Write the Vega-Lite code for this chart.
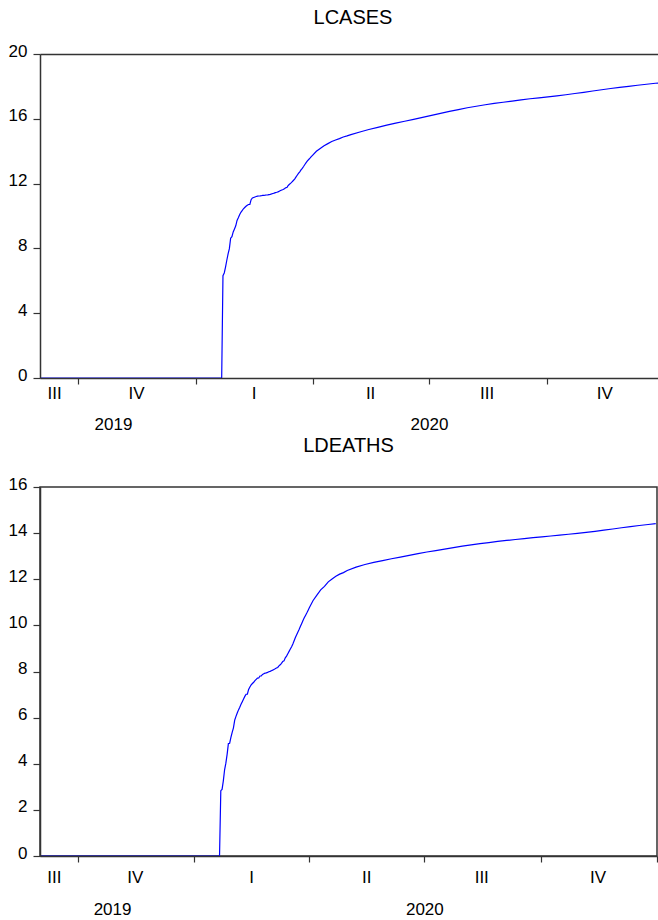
{
  "$schema": "https://vega.github.io/schema/vega-lite/v6.json",
  "padding": {"left": 7, "top": 8, "right": 0, "bottom": 0},
  "background": "white",
  "config": {
    "font": "Liberation Sans",
    "view": {"stroke": null},
    "axis": {"labelFont": "Liberation Sans", "labelFontSize": 17, "labelColor": "#000", "domainColor": "#333", "tickColor": "#333", "domainWidth": 1.5, "tickWidth": 1.2, "grid": false, "title": null, "labelFlush": false, "labelOverlap": false},
    "title": {"font": "Liberation Sans", "fontSize": 20, "fontWeight": "normal", "color": "#000", "anchor": "middle", "frame": "group", "baseline": "alphabetic"},
    "line": {"stroke": "#0000ff", "strokeWidth": 1.2, "clip": true}
  },
  "datasets": {
    "covid": [
      {"date": "2019-09-01", "lcases": 0, "ldeaths": 0},
      {"date": "2020-01-21", "lcases": 0, "ldeaths": 0},
      {"date": "2020-01-22", "lcases": 6.319, "ldeaths": 2.833},
      {"date": "2020-01-23", "lcases": 6.483, "ldeaths": 2.890},
      {"date": "2020-01-24", "lcases": 6.847, "ldeaths": 3.258},
      {"date": "2020-01-25", "lcases": 7.268, "ldeaths": 3.738},
      {"date": "2020-01-26", "lcases": 7.658, "ldeaths": 4.025},
      {"date": "2020-01-27", "lcases": 7.982, "ldeaths": 4.407},
      {"date": "2020-01-28", "lcases": 8.627, "ldeaths": 4.875},
      {"date": "2020-01-29", "lcases": 8.727, "ldeaths": 4.890},
      {"date": "2020-01-30", "lcases": 9.016, "ldeaths": 5.142},
      {"date": "2020-01-31", "lcases": 9.203, "ldeaths": 5.361},
      {"date": "2020-02-01", "lcases": 9.396, "ldeaths": 5.557},
      {"date": "2020-02-02", "lcases": 9.728, "ldeaths": 5.892},
      {"date": "2020-02-03", "lcases": 9.898, "ldeaths": 6.054},
      {"date": "2020-02-04", "lcases": 10.082, "ldeaths": 6.198},
      {"date": "2020-02-05", "lcases": 10.227, "ldeaths": 6.335},
      {"date": "2020-02-06", "lcases": 10.335, "ldeaths": 6.452},
      {"date": "2020-02-07", "lcases": 10.446, "ldeaths": 6.578},
      {"date": "2020-02-08", "lcases": 10.522, "ldeaths": 6.692},
      {"date": "2020-02-09", "lcases": 10.601, "ldeaths": 6.809},
      {"date": "2020-02-10", "lcases": 10.664, "ldeaths": 6.921},
      {"date": "2020-02-11", "lcases": 10.710, "ldeaths": 7.015},
      {"date": "2020-02-12", "lcases": 10.719, "ldeaths": 7.019},
      {"date": "2020-02-13", "lcases": 11.008, "ldeaths": 7.223},
      {"date": "2020-02-14", "lcases": 11.111, "ldeaths": 7.328},
      {"date": "2020-02-15", "lcases": 11.142, "ldeaths": 7.418},
      {"date": "2020-02-16", "lcases": 11.174, "ldeaths": 7.479},
      {"date": "2020-02-17", "lcases": 11.202, "ldeaths": 7.533},
      {"date": "2020-02-18", "lcases": 11.227, "ldeaths": 7.604},
      {"date": "2020-02-19", "lcases": 11.234, "ldeaths": 7.660},
      {"date": "2020-02-20", "lcases": 11.241, "ldeaths": 7.717},
      {"date": "2020-02-21", "lcases": 11.250, "ldeaths": 7.719},
      {"date": "2020-02-22", "lcases": 11.272, "ldeaths": 7.807},
      {"date": "2020-02-23", "lcases": 11.277, "ldeaths": 7.812},
      {"date": "2020-02-24", "lcases": 11.284, "ldeaths": 7.874},
      {"date": "2020-02-25", "lcases": 11.295, "ldeaths": 7.904},
      {"date": "2020-02-26", "lcases": 11.307, "ldeaths": 7.927},
      {"date": "2020-02-27", "lcases": 11.324, "ldeaths": 7.942},
      {"date": "2020-02-28", "lcases": 11.340, "ldeaths": 7.963},
      {"date": "2020-02-29", "lcases": 11.362, "ldeaths": 7.987},
      {"date": "2020-03-01", "lcases": 11.389, "ldeaths": 8.005},
      {"date": "2020-03-02", "lcases": 11.411, "ldeaths": 8.034},
      {"date": "2020-03-03", "lcases": 11.439, "ldeaths": 8.058},
      {"date": "2020-03-04", "lcases": 11.463, "ldeaths": 8.088},
      {"date": "2020-03-05", "lcases": 11.491, "ldeaths": 8.116},
      {"date": "2020-03-06", "lcases": 11.531, "ldeaths": 8.149},
      {"date": "2020-03-07", "lcases": 11.570, "ldeaths": 8.177},
      {"date": "2020-03-08", "lcases": 11.607, "ldeaths": 8.243},
      {"date": "2020-03-09", "lcases": 11.640, "ldeaths": 8.291},
      {"date": "2020-03-10", "lcases": 11.683, "ldeaths": 8.357},
      {"date": "2020-03-11", "lcases": 11.743, "ldeaths": 8.437},
      {"date": "2020-03-12", "lcases": 11.762, "ldeaths": 8.460},
      {"date": "2020-03-13", "lcases": 11.886, "ldeaths": 8.595},
      {"date": "2020-03-14", "lcases": 11.958, "ldeaths": 8.669},
      {"date": "2020-03-15", "lcases": 12.028, "ldeaths": 8.770},
      {"date": "2020-03-16", "lcases": 12.109, "ldeaths": 8.872},
      {"date": "2020-03-17", "lcases": 12.192, "ldeaths": 8.975},
      {"date": "2020-03-18", "lcases": 12.278, "ldeaths": 9.075},
      {"date": "2020-03-19", "lcases": 12.400, "ldeaths": 9.197},
      {"date": "2020-03-20", "lcases": 12.514, "ldeaths": 9.332},
      {"date": "2020-03-21", "lcases": 12.626, "ldeaths": 9.471},
      {"date": "2020-03-22", "lcases": 12.725, "ldeaths": 9.590},
      {"date": "2020-03-23", "lcases": 12.843, "ldeaths": 9.711},
      {"date": "2020-03-24", "lcases": 12.943, "ldeaths": 9.832},
      {"date": "2020-03-25", "lcases": 13.055, "ldeaths": 9.961},
      {"date": "2020-03-26", "lcases": 13.180, "ldeaths": 10.085},
      {"date": "2020-03-27", "lcases": 13.293, "ldeaths": 10.211},
      {"date": "2020-03-28", "lcases": 13.401, "ldeaths": 10.330},
      {"date": "2020-03-29", "lcases": 13.487, "ldeaths": 10.432},
      {"date": "2020-03-30", "lcases": 13.570, "ldeaths": 10.534},
      {"date": "2020-03-31", "lcases": 13.662, "ldeaths": 10.648},
      {"date": "2020-04-01", "lcases": 13.746, "ldeaths": 10.762},
      {"date": "2020-04-04", "lcases": 13.998, "ldeaths": 11.078},
      {"date": "2020-04-07", "lcases": 14.173, "ldeaths": 11.314},
      {"date": "2020-04-10", "lcases": 14.340, "ldeaths": 11.538},
      {"date": "2020-04-13", "lcases": 14.468, "ldeaths": 11.691},
      {"date": "2020-04-16", "lcases": 14.595, "ldeaths": 11.888},
      {"date": "2020-04-19", "lcases": 14.695, "ldeaths": 12.014},
      {"date": "2020-04-22", "lcases": 14.779, "ldeaths": 12.126},
      {"date": "2020-04-25", "lcases": 14.880, "ldeaths": 12.221},
      {"date": "2020-04-28", "lcases": 14.947, "ldeaths": 12.288},
      {"date": "2020-05-01", "lcases": 15.024, "ldeaths": 12.380},
      {"date": "2020-05-08", "lcases": 15.184, "ldeaths": 12.528},
      {"date": "2020-05-15", "lcases": 15.337, "ldeaths": 12.638},
      {"date": "2020-05-22", "lcases": 15.474, "ldeaths": 12.731},
      {"date": "2020-05-29", "lcases": 15.612, "ldeaths": 12.810},
      {"date": "2020-06-05", "lcases": 15.737, "ldeaths": 12.889},
      {"date": "2020-06-12", "lcases": 15.848, "ldeaths": 12.960},
      {"date": "2020-06-19", "lcases": 15.967, "ldeaths": 13.035},
      {"date": "2020-06-26", "lcases": 16.088, "ldeaths": 13.110},
      {"date": "2020-07-03", "lcases": 16.213, "ldeaths": 13.181},
      {"date": "2020-07-10", "lcases": 16.333, "ldeaths": 13.245},
      {"date": "2020-07-17", "lcases": 16.455, "ldeaths": 13.308},
      {"date": "2020-07-24", "lcases": 16.569, "ldeaths": 13.371},
      {"date": "2020-07-31", "lcases": 16.683, "ldeaths": 13.433},
      {"date": "2020-08-07", "lcases": 16.776, "ldeaths": 13.488},
      {"date": "2020-08-14", "lcases": 16.869, "ldeaths": 13.544},
      {"date": "2020-08-21", "lcases": 16.947, "ldeaths": 13.592},
      {"date": "2020-08-28", "lcases": 17.022, "ldeaths": 13.639},
      {"date": "2020-09-04", "lcases": 17.096, "ldeaths": 13.682},
      {"date": "2020-09-11", "lcases": 17.169, "ldeaths": 13.723},
      {"date": "2020-09-18", "lcases": 17.236, "ldeaths": 13.763},
      {"date": "2020-09-25", "lcases": 17.297, "ldeaths": 13.801},
      {"date": "2020-10-02", "lcases": 17.354, "ldeaths": 13.838},
      {"date": "2020-10-09", "lcases": 17.416, "ldeaths": 13.876},
      {"date": "2020-10-16", "lcases": 17.484, "ldeaths": 13.913},
      {"date": "2020-10-23", "lcases": 17.560, "ldeaths": 13.951},
      {"date": "2020-10-30", "lcases": 17.637, "ldeaths": 13.989},
      {"date": "2020-11-06", "lcases": 17.715, "ldeaths": 14.034},
      {"date": "2020-11-13", "lcases": 17.795, "ldeaths": 14.080},
      {"date": "2020-11-20", "lcases": 17.869, "ldeaths": 14.131},
      {"date": "2020-11-27", "lcases": 17.934, "ldeaths": 14.180},
      {"date": "2020-12-04", "lcases": 17.999, "ldeaths": 14.232},
      {"date": "2020-12-11", "lcases": 18.071, "ldeaths": 14.284},
      {"date": "2020-12-18", "lcases": 18.133, "ldeaths": 14.331},
      {"date": "2020-12-25", "lcases": 18.193, "ldeaths": 14.374},
      {"date": "2020-12-31", "lcases": 18.239, "ldeaths": 14.413}
    ]
  },
  "bounds": "flush",
  "spacing": 109,
  "vconcat": [
    {
      "title": {"text": "LCASES", "offset": 14, "dx": 4},
      "width": 618,
      "height": 324,
      "data": {"name": "covid"},
      "encoding": {
        "y": {"field": "lcases", "type": "quantitative", "scale": {"domain": [0, 20], "nice": false}, "axis": {"values": [0, 4, 8, 12, 16, 20], "tickSize": 7, "labelPadding": 6, "labelOffset": -3, "domain": true, "zindex": 1}}
      },
      "resolve": {"axis": {"x": "independent"}},
      "layer": [
        {
          "mark": {"type": "line"},
          "encoding": {"x": {"field": "date", "type": "temporal", "scale": {"domain": [{"year": 2019, "month": 9, "date": 1}, {"year": 2020, "month": 12, "date": 27}]}, "axis": {"orient": "bottom", "labels": false, "tickSize": 6, "domain": true, "zindex": 2, "values": [{"year": 2019, "month": 10, "date": 1}, {"year": 2020, "month": 1, "date": 1}, {"year": 2020, "month": 4, "date": 1}, {"year": 2020, "month": 7, "date": 1}, {"year": 2020, "month": 10, "date": 1}]}}}
        },
        {
          "mark": {"type": "line", "opacity": 0},
          "encoding": {"x": {"field": "date", "type": "temporal", "axis": {"orient": "bottom", "ticks": false, "tickSize": 0, "domain": false, "labelPadding": 7.5, "labelExpr": "month(datum.value) < 3 ? 'I' : month(datum.value) < 6 ? 'II' : month(datum.value) < 9 ? 'III' : 'IV'", "values": [{"year": 2019, "month": 9, "date": 12}, {"year": 2019, "month": 11, "date": 15}, {"year": 2020, "month": 2, "date": 15}, {"year": 2020, "month": 5, "date": 16}, {"year": 2020, "month": 8, "date": 15}, {"year": 2020, "month": 11, "date": 15}]}}}
        },
        {
          "mark": {"type": "line", "opacity": 0},
          "encoding": {"x": {"field": "date", "type": "temporal", "axis": {"orient": "bottom", "ticks": false, "tickSize": 0, "domain": false, "labelPadding": 38, "format": "%Y", "values": [{"year": 2019, "month": 10, "date": 28}, {"year": 2020, "month": 7, "date": 1}]}}}
        },
        {
          "mark": {"type": "line", "opacity": 0},
          "encoding": {"x": {"field": "date", "type": "temporal", "axis": {"orient": "top", "ticks": false, "labels": false, "domain": true, "zindex": 1}}}
        }
      ]
    },
    {
      "title": {"text": "LDEATHS", "offset": 19.5},
      "width": 617,
      "height": 369,
      "data": {"name": "covid"},
      "view": {"stroke": "#333", "strokeWidth": 1.5},
      "encoding": {
        "y": {"field": "ldeaths", "type": "quantitative", "scale": {"domain": [0, 16], "nice": false}, "axis": {"values": [0, 2, 4, 6, 8, 10, 12, 14, 16], "tickSize": 7, "labelPadding": 6, "labelOffset": -3, "domain": true, "zindex": 1}}
      },
      "resolve": {"axis": {"x": "independent"}},
      "layer": [
        {
          "mark": {"type": "line"},
          "encoding": {"x": {"field": "date", "type": "temporal", "scale": {"domain": [{"year": 2019, "month": 9, "date": 1}, {"year": 2021, "month": 1, "date": 1}]}, "axis": {"orient": "bottom", "labels": false, "tickSize": 6, "domain": true, "zindex": 2, "values": [{"year": 2019, "month": 10, "date": 1}, {"year": 2020, "month": 1, "date": 1}, {"year": 2020, "month": 4, "date": 1}, {"year": 2020, "month": 7, "date": 1}, {"year": 2020, "month": 10, "date": 1}, {"year": 2021, "month": 1, "date": 1}]}}}
        },
        {
          "mark": {"type": "line", "opacity": 0},
          "encoding": {"x": {"field": "date", "type": "temporal", "axis": {"orient": "bottom", "ticks": false, "tickSize": 0, "domain": false, "labelPadding": 13, "labelExpr": "month(datum.value) < 3 ? 'I' : month(datum.value) < 6 ? 'II' : month(datum.value) < 9 ? 'III' : 'IV'", "values": [{"year": 2019, "month": 9, "date": 12}, {"year": 2019, "month": 11, "date": 15}, {"year": 2020, "month": 2, "date": 15}, {"year": 2020, "month": 5, "date": 16}, {"year": 2020, "month": 8, "date": 15}, {"year": 2020, "month": 11, "date": 15}]}}}
        },
        {
          "mark": {"type": "line", "opacity": 0},
          "encoding": {"x": {"field": "date", "type": "temporal", "axis": {"orient": "bottom", "ticks": false, "tickSize": 0, "domain": false, "labelPadding": 45, "format": "%Y", "values": [{"year": 2019, "month": 10, "date": 28}, {"year": 2020, "month": 7, "date": 1}]}}}
        }
      ]
    }
  ]
}
